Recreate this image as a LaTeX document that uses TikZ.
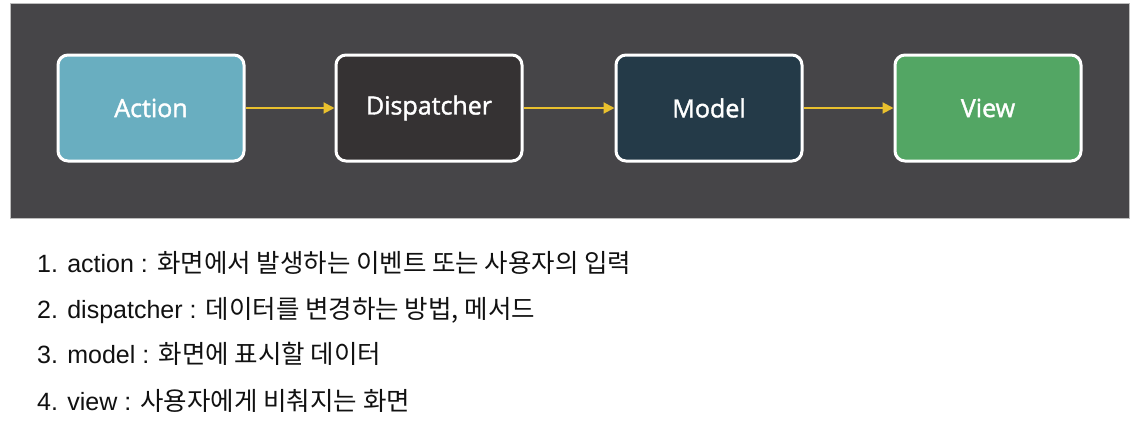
\documentclass[tikz,border=0pt]{standalone}
\usepackage{fontspec}
\setmainfont{Liberation Sans}
\newfontfamily\boxfont[FakeBold=1.6]{Open Sans}
\newfontfamily\kofont{Noto Sans CJK KR}
\newcommand{\ko}[1]{{\kofont\fontsize{25.5}{29}\selectfont #1}}
\usetikzlibrary{arrows.meta}
\definecolor{panel}{HTML}{464548}
\definecolor{panelborder}{HTML}{BDBDBD}
\definecolor{actfill}{HTML}{69AEC0}
\definecolor{disfill}{HTML}{353233}
\definecolor{modfill}{HTML}{243A48}
\definecolor{viewfill}{HTML}{53A664}
\definecolor{arrowyellow}{HTML}{E9C02E}
\definecolor{listtext}{HTML}{111111}
\tikzset{
  flowbox/.style={draw=white, line width=3pt, rounded corners=10pt, minimum width=186pt, minimum height=106pt, inner sep=0pt, text=white, font=\boxfont\fontsize{25}{29}\selectfont},
  flowarrow/.style={draw=arrowyellow, line width=2pt, -{Triangle[length=11pt,width=11pt]}},
  listitem/.style={anchor=base west, inner sep=0pt, text=listtext, font=\fontsize{25}{29}\selectfont}
}
\begin{document}
\begin{tikzpicture}[x=1pt,y=-1pt]
\useasboundingbox (0,0) rectangle (1145,432);
\fill[white] (0,0) rectangle (1145,432);
\draw[panelborder, fill=panel, line width=0.8pt] (10,3) rectangle (1129,218);
\node[flowbox, fill=actfill] (action) at (151,108) {Action};
\node[flowbox, fill=disfill] (dispatcher) at (429,108) {Dispatcher};
\node[flowbox, fill=modfill] (model) at (709,108) {Model};
\node[flowbox, fill=viewfill] (view) at (988,108) {View};
\draw[flowarrow] (action.east) -- (dispatcher.west);
\draw[flowarrow] (dispatcher.east) -- (model.west);
\draw[flowarrow] (model.east) -- (view.west);
\node[listitem] (l1) at (37,272) {1. action : \ko{화면에서 발생하는 이벤트 또는 사용자의 입력}};
\node[listitem] (l2) at (37,318) {2. dispatcher : \ko{데이터를 변경하는 방법, 메서드}};
\node[listitem] (l3) at (37,363) {3. model : \ko{화면에 표시할 데이터}};
\node[listitem] (l4) at (37,410) {4. view : \ko{사용자에게 비춰지는 화면}};
\end{tikzpicture}
\end{document}
